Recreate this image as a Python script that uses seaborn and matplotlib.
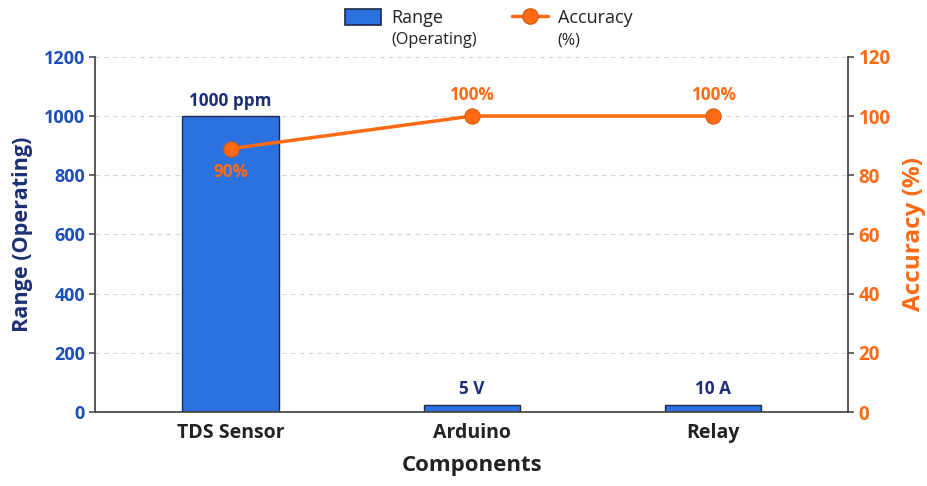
import pandas as pd
import numpy as np
import matplotlib
matplotlib.use("Agg")
import matplotlib.pyplot as plt
import seaborn as sns
from matplotlib.patches import Patch
from matplotlib.lines import Line2D


components = ["TDS Sensor", "Arduino", "Relay"]
range_vals = [1000, 25, 25]
range_labels = ["1000 ppm", "5 V", "10 A"]
accuracy = [89, 100, 100]
accuracy_labels = ["90%", "100%", "100%"]
legend_titles = ["Range", "Accuracy"]
legend_subs = ["(Operating)", "(%)"]

bar_color = "#2b72e0"
navy = "#1c2f74"
blue_tick = "#1d4fb8"
orange = "#ff6a13"

sns.set_theme(style="white")
plt.rcParams['font.family'] = ['Open Sans', 'DejaVu Sans']

df = pd.DataFrame({"Component": components, "Range": range_vals, "Accuracy": accuracy})

fig, ax = plt.subplots(figsize=(9.27, 4.86), dpi=100)
fig.subplots_adjust(left=0.103, right=0.915, top=0.883, bottom=0.152)

sns.barplot(data=df, x="Component", y="Range", color=bar_color, width=0.4,
            edgecolor="#1e2a4a", linewidth=1.0, saturation=1, ax=ax, zorder=2)
ax.set_ylim(0, 1200)
ax.set_xlim(-0.56, 2.56)
ax.set_yticks(range(0, 1201, 200))
ax.yaxis.grid(True, linestyle=(0, (4, 4)), color="#d5d5d5", linewidth=0.8, zorder=0)
ax.set_axisbelow(True)

for i, (v, lab) in enumerate(zip(range_vals, range_labels)):
    ax.text(i, v + 22, lab, ha="center", va="bottom", color=navy,
            fontsize=12.3, fontweight="bold")

ax.set_xlabel("Components", fontsize=16, fontweight="bold", color="#222222", labelpad=9)
ax.set_ylabel("Range (Operating)", fontsize=15.6, fontweight="bold", color=navy, labelpad=8)
ax.tick_params(axis="x", labelsize=14, colors="#555555", length=4)
for t in ax.get_xticklabels():
    t.set_fontweight("bold")
    t.set_color("#222222")
ax.tick_params(axis="y", labelsize=13, length=4, colors="#555555")
for t in ax.get_yticklabels():
    t.set_fontweight("bold")
    t.set_color(blue_tick)

ax2 = ax.twinx()
sns.lineplot(data=df, x="Component", y="Accuracy", color=orange, linewidth=2.5,
             marker="o", markersize=11, markeredgecolor="#d85a10", ax=ax2, zorder=3)
ax2.set_ylim(0, 120)
ax2.set_yticks(range(0, 121, 20))
ax2.set_ylabel("Accuracy (%)", fontsize=17.5, fontweight="bold", color=orange, labelpad=8)
ax2.tick_params(axis="y", labelsize=13.5, length=4, colors="#555555")
for t in ax2.get_yticklabels():
    t.set_fontweight("bold")
    t.set_color(orange)

for i, (v, lab) in enumerate(zip(accuracy, accuracy_labels)):
    if i == 0:
        ax2.text(i, v - 5, lab, ha="center", va="top", color=orange,
                 fontsize=12.3, fontweight="bold")
    else:
        ax2.text(i, v + 4, lab, ha="center", va="bottom", color=orange,
                 fontsize=12.3, fontweight="bold")

for a in (ax, ax2):
    a.spines["top"].set_visible(False)
    a.spines["left"].set_color("#444444")
    a.spines["right"].set_color("#444444")
    a.spines["bottom"].set_color("#444444")
ax.spines["right"].set_visible(False)
ax2.spines["left"].set_visible(False)
ax2.spines["bottom"].set_visible(False)

handles = [Patch(facecolor=bar_color, edgecolor="#1e2a4a", linewidth=1.2),
           Line2D([0], [0], color=orange, linewidth=2.5, marker="o", markersize=11,
                  markeredgecolor="#d85a10")]
leg = fig.legend(handles, legend_titles, loc="upper center",
                 bbox_to_anchor=(0.527, 1.015), ncol=2, frameon=False, fontsize=13,
                 handlelength=2.0, handleheight=1.0, handletextpad=0.55,
                 columnspacing=3.8, labelcolor="#222222")

# second, smaller line of each legend entry
fig.canvas.draw()
renderer = fig.canvas.get_renderer()
inv = fig.transFigure.inverted()
for txt, sub in zip(leg.get_texts(), legend_subs):
    bb = txt.get_window_extent(renderer)
    x0, y0 = inv.transform((bb.x0, bb.y0))
    fig.text(x0, y0 - 0.01, sub, ha="left", va="top", fontsize=11.7, color="#222222")

plt.savefig("out.png", dpi=100)
